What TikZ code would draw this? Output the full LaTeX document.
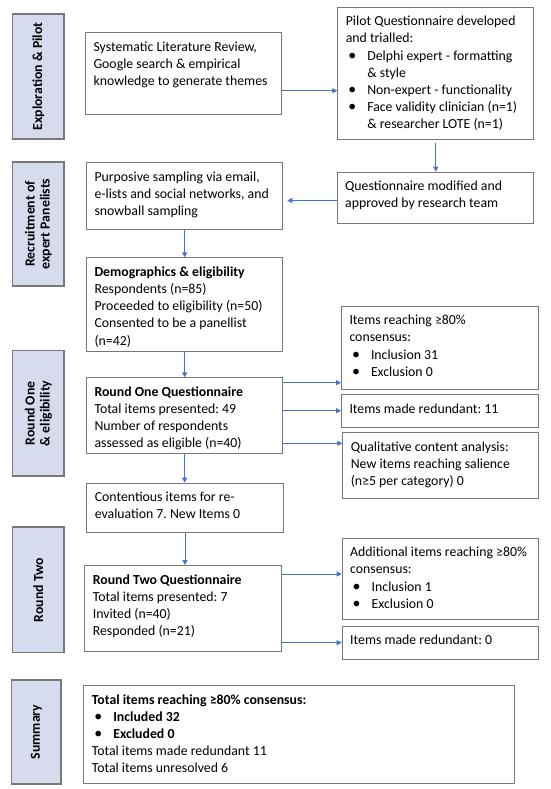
\documentclass[tikz,border=0pt]{standalone}
\usepackage{fontspec}
\setmainfont{Carlito}
\usetikzlibrary{arrows.meta}
\definecolor{bordergray}{RGB}{120,120,120}
\definecolor{labfill}{RGB}{214,220,238}
\definecolor{arrowblue}{RGB}{68,114,196}
\frenchspacing
\newcommand{\bx}[3]{\parbox[c][#2pt][t]{#1pt}{\raggedright\frenchspacing\fontsize{13.8}{17.2}\selectfont\rule{0pt}{18.5pt}#3}}
\newcommand{\bul}{\hspace*{2.5pt}\makebox[19pt][l]{\scalebox{1.15}{\textbullet}}}
\newcommand{\cnt}{\hspace*{21.5pt}}
\begin{document}
\begin{tikzpicture}[x=1pt, y=-1pt,
  box/.style={draw=bordergray, line width=1pt, inner xsep=8pt, inner ysep=0pt, anchor=north west},
  lab/.style={draw=bordergray, fill=labfill, line width=1.3pt, rotate=90, inner sep=0pt,
    align=center, font=\fontsize{13.8}{15}\selectfont\bfseries},
  arr/.style={draw=arrowblue, line width=0.9pt, -{Triangle[length=5pt,width=5pt]}}]
\useasboundingbox (0,0) rectangle (550,789);

% stage labels
\node[lab, minimum width=125pt, minimum height=51.3pt] (L1) at (38.35,76.5) {Exploration \& Pilot};
\node[lab, minimum width=124pt, minimum height=51.3pt] (L2) at (38.35,224) {Recruitment of\\expert Panelists};
\node[lab, minimum width=125.3pt, minimum height=51.3pt] (L3) at (38.35,413.35) {Round One\\\& eligibility};
\node[lab, minimum width=125.7pt, minimum height=51.3pt] (L4) at (38.35,589.85) {Round Two};
\node[lab, minimum width=104pt, minimum height=49.3pt] (L5) at (36.35,732) {Summary};

% boxes
\node[box] (A) at (85,32.3) {\bx{179.7}{81.7}{Systematic Literature Review,\\Google search \& empirical\\knowledge to generate themes}};
\node[box] (B) at (337.3,6.7) {\bx{180}{132.6}{Pilot Questionnaire developed\\and trialled:\\
\bul Delphi expert - formatting\\\cnt \& style\\
\bul Non-expert - functionality\\
\bul Face validity clinician (n=1)\\\cnt \& researcher LOTE (n=1)}};
\node[box] (C) at (336.7,171.7) {\bx{180}{51}{Questionnaire modified and\\approved by research team}};
\node[box] (D) at (86,162.3) {\bx{180.3}{67}{Purposive sampling via email,\\e-lists and social networks, and\\snowball sampling}};
\node[box] (E) at (86,257.3) {\bx{180.3}{93.7}{\textbf{Demographics \& eligibility}\\Respondents (n=85)\\Proceeded to eligibility (n=50)\\Consented to be a panellist\\(n=42)}};
\node[box] (F) at (86,377.3) {\bx{180.3}{76}{\textbf{Round One Questionnaire}\\Total items presented: 49\\Number of respondents\\assessed as eligible (n=40)}};
\node[box] (G) at (86.3,482.7) {\bx{180.3}{49}{Contentious items for re-\\evaluation 7. New Items 0}};
\node[box] (H) at (84.3,565) {\bx{180.4}{85.7}{\textbf{Round Two Questionnaire}\\Total items presented: 7\\Invited (n=40)\\Responded (n=21)}};
\node[box] (I) at (341,305.7) {\bx{180.7}{83.6}{Items reaching ≥80\%\\consensus:\\\bul Inclusion 31\\\bul Exclusion 0}};
\node[box] (J) at (341,394) {\bx{180.7}{32.7}{Items made redundant: 11}};
\node[box] (K) at (342.3,432.3) {\bx{180}{66}{Qualitative content analysis:\\New items reaching salience\\(n≥5 per category) 0}};
\node[box] (L) at (341.7,537.7) {\bx{180.6}{81.3}{Additional items reaching ≥80\%\\consensus:\\\bul Inclusion 1\\\bul Exclusion 0}};
\node[box] (M) at (341.7,625.7) {\bx{180.6}{33.3}{Items made redundant: 0}};
\node[box] (N) at (83.3,685) {\bx{415}{98.3}{\textbf{Total items reaching ≥80\% consensus:}\\\bul\textbf{Included 32}\\\bul\textbf{Excluded 0}\\Total items made redundant 11\\Total items unresolved 6}};

% connectors
\coordinate (a1) at ([yshift=-58.4pt]A.north east);
\draw[arr] (a1) -- (a1 -| B.west);
\draw[arr, shorten <=3pt] (B.south) -- (B.south |- C.north);
\coordinate (c1) at ([yshift=-2.8pt]C.west);
\draw[arr, shorten >=4pt] (c1) -- (c1 -| D.east);
\draw[arr] (D.south) -- (E.north);
\draw[arr] (E.south) -- (F.north);
\draw[arr] (F.south) -- (F.south |- G.north);
\draw[arr] (G.south) -- (G.south |- H.north);
\coordinate (f1) at ([yshift=-5.4pt]F.north east);
\coordinate (f2) at ([yshift=-33.4pt]F.north east);
\coordinate (f3) at ([yshift=-66pt]F.north east);
\draw[arr] (f1) -- (f1 -| I.west);
\draw[arr] (f2) -- (f2 -| J.west);
\draw[arr] (f3) -- (f3 -| K.west);
\coordinate (h1) at ([yshift=-9pt]H.north east);
\coordinate (h2) at ([yshift=9pt]H.south east);
\draw[arr] (h1) -- (h1 -| L.west);
\draw[arr] (h2) -- (h2 -| M.west);
\end{tikzpicture}
\end{document}
